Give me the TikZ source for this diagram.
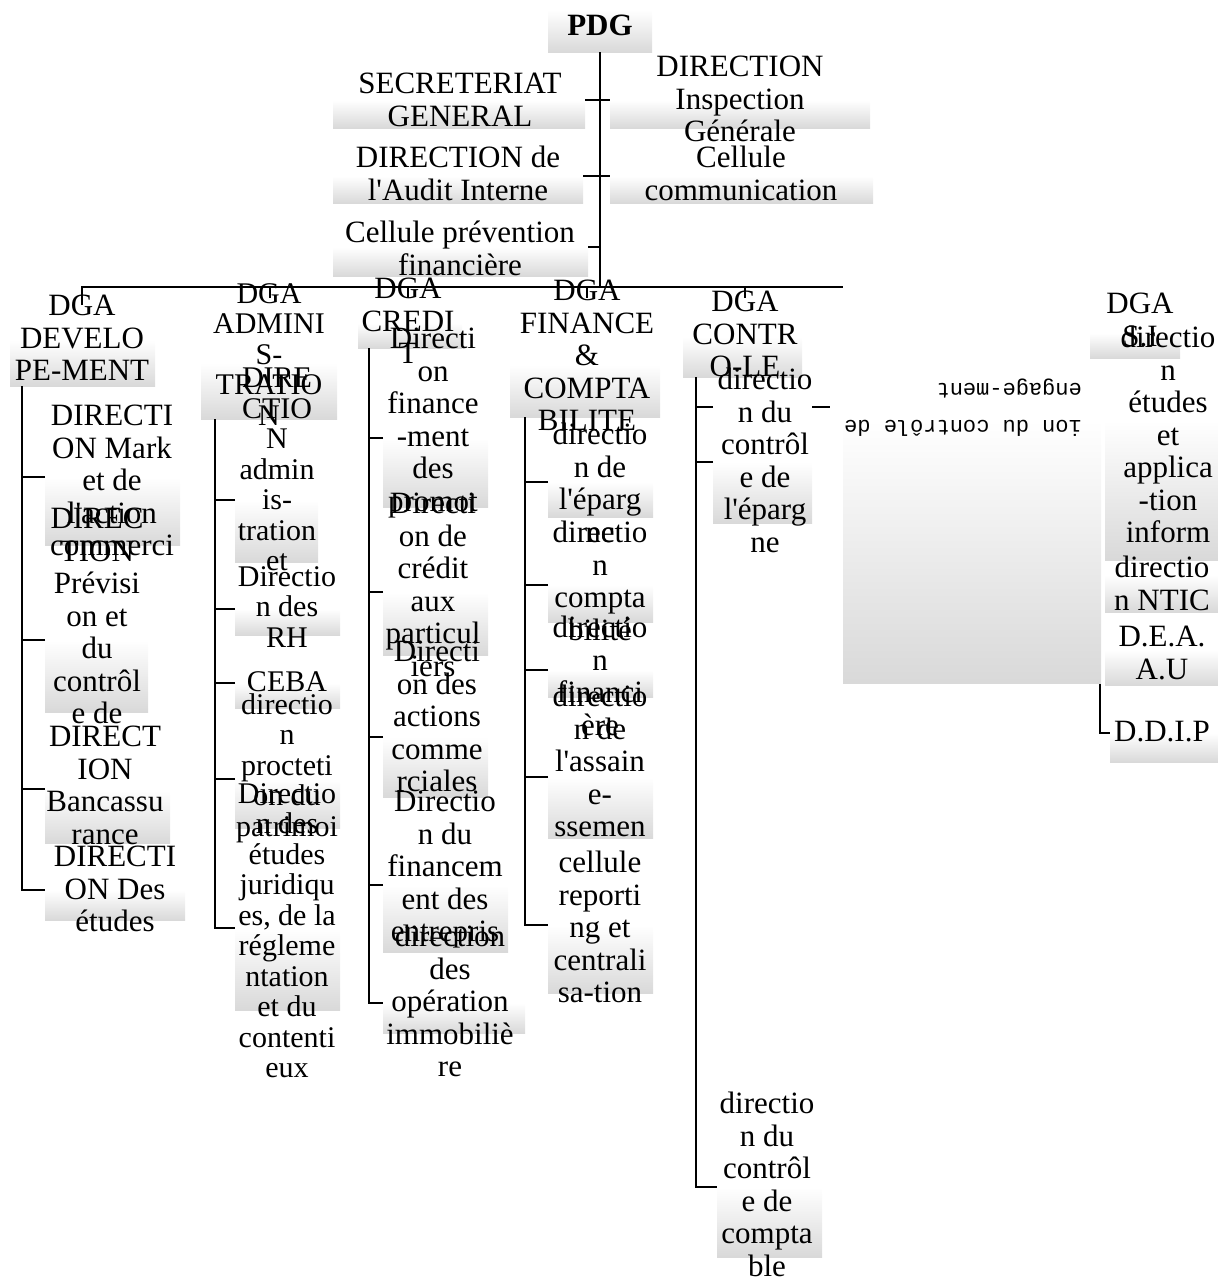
\documentclass[tikz,border=0pt]{standalone}
\usepackage{fontspec}
\setmainfont{Liberation Serif}
\newfontfamily\flipfont{Liberation Mono}
\newcommand{\q}{\textquotesingle}

\begin{document}
\begin{tikzpicture}[x=1pt,y=-1pt,
    box/.style={draw=none, top color=white, bottom color=black!15, inner sep=0pt, anchor=north west},
    lbl/.style={align=center, inner sep=0pt, anchor=north, font=\fontsize{31}{32.5}\selectfont},
    lbls/.style={lbl, font=\fontsize{30}{30.5}\selectfont},
    conn/.style={line width=1.8pt}]
    \useasboundingbox (0,0) rectangle (1218,1283);

    % shaded frames
    \node[box, minimum width=104, minimum height=42] (pdg) at (548,10) {};
    \node[box, minimum width=252, minimum height=28] (sg) at (333,100) {};
    \node[box, minimum width=260, minimum height=28] (ig) at (610,100) {};
    \node[box, minimum width=250, minimum height=27] (ai) at (333,176) {};
    \node[box, minimum width=263, minimum height=27] (cc) at (610,176) {};
    \node[box, minimum width=255, minimum height=29] (cp) at (333,247) {};

    \node[box, minimum width=145, minimum height=46] (dev) at (10,340) {};
    \node[box, minimum width=136, minimum height=56] (adm) at (201,363) {};
    \node[box, minimum width=104, minimum height=25] (cre) at (358,323) {};
    \node[box, minimum width=150, minimum height=52] (fin) at (510,365) {};
    \node[box, minimum width=119, minimum height=40] (ctl) at (683,337) {};
    \node[box, minimum width=90, minimum height=25] (si) at (1090,333) {};

    \node[box, minimum width=135, minimum height=68] (d1) at (45,477) {};
    \node[box, minimum width=103, minimum height=72] (d2) at (45,640) {};
    \node[box, minimum width=125, minimum height=54] (d3) at (45,789) {};
    \node[box, minimum width=140, minimum height=30] (d4) at (45,890) {};

    \node[box, minimum width=83, minimum height=62] (a1) at (235,500) {};
    \node[box, minimum width=105, minimum height=26] (a2) at (235,609) {};
    \node[box, minimum width=105, minimum height=25] (a3) at (235,683) {};
    \node[box, minimum width=105, minimum height=49] (a4) at (235,779) {};
    \node[box, minimum width=105, minimum height=82] (a5) at (235,928) {};

    \node[box, minimum width=105, minimum height=69] (c1) at (383,438) {};
    \node[box, minimum width=105, minimum height=63] (c2) at (383,592) {};
    \node[box, minimum width=105, minimum height=60] (c3) at (383,737) {};
    \node[box, minimum width=125, minimum height=67] (c4) at (383,885) {};
    \node[box, minimum width=142, minimum height=30] (c5) at (383,1003) {};

    \node[box, minimum width=105, minimum height=35] (f1) at (548,482) {};
    \node[box, minimum width=105, minimum height=37] (f2) at (548,585) {};
    \node[box, minimum width=105, minimum height=27] (f3) at (548,670) {};
    \node[box, minimum width=105, minimum height=61] (f4) at (548,777) {};
    \node[box, minimum width=105, minimum height=68] (f5) at (548,925) {};

    \node[box, minimum width=99, minimum height=61] (k1) at (713,462) {};
    \node[box, minimum width=105, minimum height=70] (k2) at (717,1187) {};

    \node[box, minimum width=113, minimum height=140] (s1) at (1105,420) {};
    \node[box, minimum width=113, minimum height=37] (s2) at (1105,575) {};
    \node[box, minimum width=113, minimum height=35] (s3) at (1105,650) {};
    \node[box, minimum width=108, minimum height=29] (s4) at (1110,733) {};

    % connectors
    \coordinate (busL) at (82,305);
    \coordinate (busR) at (843,287);
    \draw[conn] (pdg.south) -- (pdg.south |- busR);
    \draw[conn] (sg.north east) -- (ig.north west);
    \draw[conn] (ai.north east) -- (cc.north west);
    \draw[conn] (cp.north east) -- (cp.north east -| pdg.south);
    \draw[conn] (busL) |- (busR);
    \foreach \x in {270,408,587,745}
        \draw[conn] (\x,287) -- ++(0,11);

    \coordinate (devT) at (22,386);
    \draw[conn] (devT) |- (d4.north west);
    \foreach \c in {d1,d2,d3}
        \draw[conn] (\c.north west) -- (\c.north west -| devT);

    \coordinate (admT) at (215,419);
    \draw[conn] (admT) |- (a5.north west);
    \foreach \c in {a1,a2,a3,a4}
        \draw[conn] (\c.north west) -- (\c.north west -| admT);

    \coordinate (creT) at (369,348);
    \draw[conn] (creT) |- (c5.north west);
    \foreach \c in {c1,c2,c3,c4}
        \draw[conn] (\c.north west) -- (\c.north west -| creT);

    \coordinate (finT) at (525,417);
    \draw[conn] (finT) |- (f5.north west);
    \foreach \c in {f1,f2,f3,f4}
        \draw[conn] (\c.north west) -- (\c.north west -| finT);

    \coordinate (ctlT) at (696,377);
    \coordinate (engL) at (713,407);
    \coordinate (engR) at (830,407);
    \draw[conn] (ctlT) |- (k2.north west);
    \draw[conn] (k1.north west) -- (k1.north west -| ctlT);
    \draw[conn] (engL) -- (engL -| ctlT);
    \draw[conn] (k1.east |- engR) -- (engR);

    \coordinate (siT) at (1100,440);
    \draw[conn] (siT) |- (s4.north west);

    % turned frame
    \node[box, minimum width=258, minimum height=263] (eng) at (843,420) {};
    \node[rotate=180, anchor=north west, align=left, inner sep=0pt,
          font=\flipfont\fontsize{22}{37}\selectfont] (engtxt) at (1082,437)
        {ion du contrôle de\\engage-ment};

    % labels
    \node[lbl, font=\bfseries\fontsize{31}{32.5}\selectfont] (pdgtxt) at (600,15) {PDG};
    \node[lbl] (sgtxt) at (460,73) {SECRETERIAT\\GENERAL};
    \node[lbl] (igtxt) at (740,56) {DIRECTION\\Inspection\\Générale};
    \node[lbl] (aitxt) at (458,146) {DIRECTION de\\l\q Audit Interne};
    \node[lbl] (cctxt) at (741,146) {Cellule\\communication};
    \node[lbl] (cptxt) at (460,221) {Cellule prévention\\financière};

    \node[lbl] (devtxt) at (82,295) {DGA\\DEVELO\\PE-MENT};
    \node[lbls] (admtxt) at (269,283) {DGA\\ADMINI\\S-\\TRATIO\\N};
    \node[lbl] (cretxt) at (408,278) {DGA\\CREDI\\T};
    \node[lbl] (fintxt) at (587,280) {DGA\\FINANCE\\\&\\COMPTA\\BILITE};
    \node[lbl] (ctltxt) at (745,291) {DGA\\CONTR\\O-LE};
    \node[lbl] (sitxt) at (1140,293) {DGA\\S.I};

    \node[lbl] (d1txt) at (112,405) {DIRECTI\\ON Mark\\et de\\l\q action\\commerci};
    \node[lbl] (d2txt) at (97,508) {DIREC\\TION\\Prévisi\\on et\\du\\contrôl\\e de};
    \node[lbl] (d3txt) at (105,726) {DIRECT\\ION\\Bancassu\\rance};
    \node[lbl] (d4txt) at (115,846) {DIRECTI\\ON Des\\études};

    \node[lbls] (a1txt) at (277,368) {DIRE\\CTIO\\N\\admin\\is-\\tration\\et};
    \node[lbls] (a2txt) at (287,566) {Directio\\n des\\RH};
    \node[lbls] (a3txt) at (287,671) {CEBA};
    \node[lbls] (a4txt) at (287,693) {directio\\n\\procteti\\on du\\patrimoi};
    \node[lbls] (a5txt) at (287,783) {Directio\\n des\\études\\juridiqu\\es, de la\\régleme\\ntation\\et du\\contenti\\eux};

    \node[lbl] (c1txt) at (433,328) {Directi\\on\\finance\\-ment\\des\\promot};
    \node[lbl] (c2txt) at (433,493) {Directi\\on de\\crédit\\aux\\particul\\iers};
    \node[lbl] (c3txt) at (437,641) {Directi\\on des\\actions\\comme\\rciales};
    \node[lbl] (c4txt) at (445,791) {Directio\\n du\\financem\\ent des\\entrepris};
    \node[lbl] (c5txt) at (450,925) {direction\\des\\opération\\immobiliè\\re};

    \node[lbl] (f1txt) at (600,423) {directio\\n de\\l\q éparg\\ne};
    \node[lbl] (f2txt) at (600,521) {directio\\n\\compta\\bilité};
    \node[lbl] (f3txt) at (600,616) {directio\\n\\financi\\ère};
    \node[lbl] (f4txt) at (600,685) {directio\\n de\\l\q assain\\e-\\ssemen};
    \node[lbl] (f5txt) at (600,851) {cellule\\reporti\\ng et\\centrali\\sa-tion};

    \node[lbl] (k1txt) at (765,368) {directio\\n du\\contrôl\\e de\\l\q éparg\\ne};
    \node[lbl] (k2txt) at (767,1092) {directio\\n du\\contrôl\\e de\\compta\\ble};

    \node[lbl] (s1txt) at (1168,326) {directio\\n\\études\\et\\applica\\-tion\\inform};
    \node[lbl] (s2txt) at (1162,556) {directio\\n NTIC};
    \node[lbl] (s3txt) at (1162,626) {D.E.A.\\A.U};
    \node[lbl] (s4txt) at (1162,721) {D.D.I.P};
\end{tikzpicture}
\end{document}
